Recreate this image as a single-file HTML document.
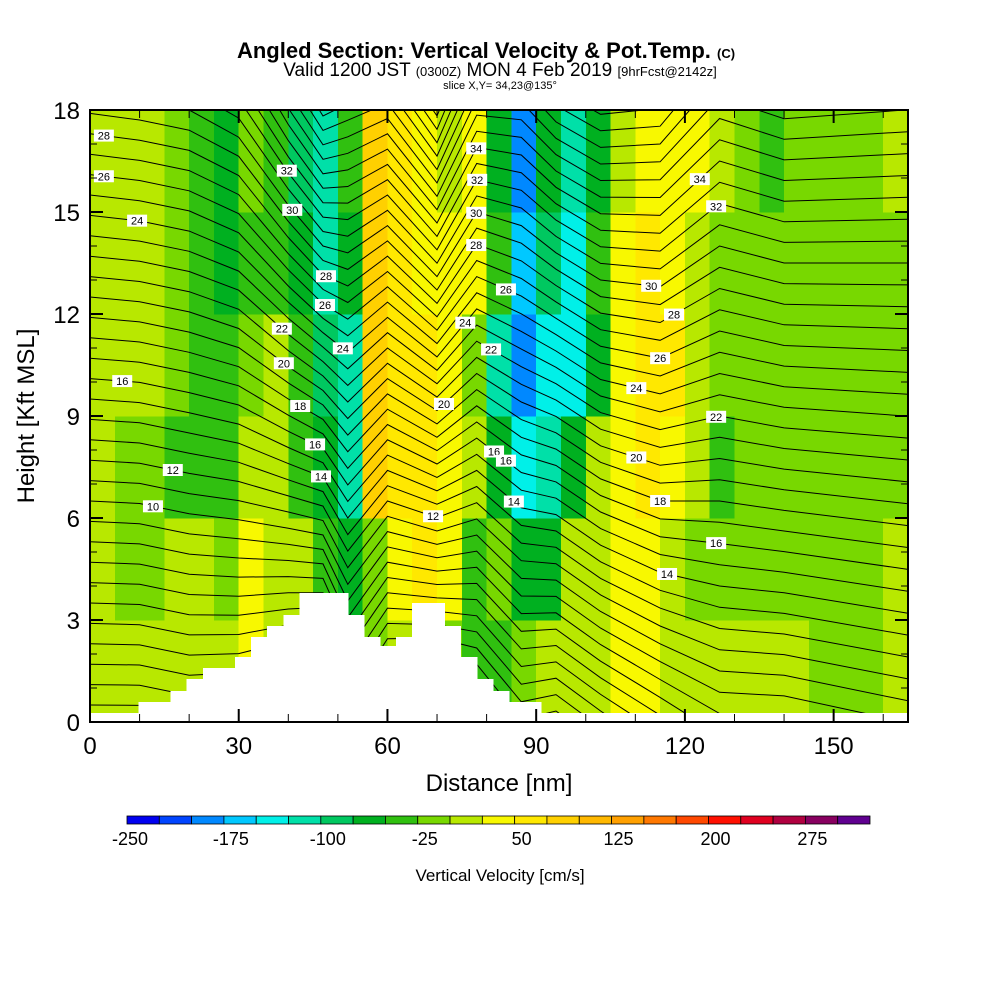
<!DOCTYPE html>
<html><head><meta charset="utf-8"><style>
body{margin:0;background:#fff}
svg{display:block;font-family:"Liberation Sans",Arial,sans-serif}
</style></head><body>
<svg id="chart" width="1000" height="1000" viewBox="0 0 1000 1000" xmlns="http://www.w3.org/2000/svg">
<rect width="1000" height="1000" fill="#fff"/>
<text x="486" y="58" text-anchor="middle" font-size="22" font-weight="bold">Angled Section: Vertical Velocity &amp; Pot.Temp. <tspan font-size="13">(C)</tspan></text>
<text x="500" y="76" text-anchor="middle" font-size="19">Valid 1200 JST <tspan font-size="13">(0300Z)</tspan> MON 4 Feb 2019 <tspan font-size="13">[9hrFcst@2142z]</tspan></text>
<text x="500" y="89" text-anchor="middle" font-size="11">slice X,Y= 34,23@135°</text>
<defs><clipPath id="pc"><rect x="90" y="110" width="818" height="612"/></clipPath></defs>
<g id="heat" clip-path="url(#pc)" shape-rendering="crispEdges"></g>
<g id="cont" clip-path="url(#pc)" fill="none" stroke="#000" stroke-width="1"></g>
<g id="terrain" clip-path="url(#pc)" shape-rendering="crispEdges"></g>
<g id="clabels"></g>
<rect x="90" y="110" width="818" height="612" fill="none" stroke="#000" stroke-width="2"/>
<g id="axes"></g>
<text x="499" y="791" text-anchor="middle" font-size="24">Distance [nm]</text>
<text transform="translate(34,416) rotate(-90)" text-anchor="middle" font-size="24">Height [Kft MSL]</text>
<g id="cbar"></g>
<text x="500" y="881" text-anchor="middle" font-size="17">Vertical Velocity [cm/s]</text>
</svg>
<script>
// ---- data ----
const xTicks=[0,30,60,90,120,150];
const yTicks=[0,3,6,9,12,15,18];
const cbarLabels=[-250,-175,-100,-25,50,125,200,275];
const palette=["#0000f0","#0044ff","#0088ff","#00c8ff","#00f0e8","#00e0a8","#00c860","#00b020","#30c010","#78d800","#b8e800","#f8f800","#ffe800","#ffd000","#ffb800","#ffa000","#ff7800","#ff4800","#ff1000","#e00020","#b00040","#880060","#600090"];
// vertical velocity rows (cm/s), 5 nm columns, rows of 3 kft from bottom
const w0=[12,12,12,12,12,12,37,12,12,-37,-37,-12,12,37,-12,-37,-37,-12,12,12,12,37,37,12,12,12,12,12,12,-12,-12,-12,12];
const w1=[12,-12,-12,12,12,-12,37,12,12,-37,-62,-12,37,62,37,-37,-12,-62,-62,12,12,37,37,12,-12,-12,-12,-12,-12,-12,-12,-12,12];
const w2=[12,-12,-12,-37,-37,-37,12,12,-37,-62,-112,87,62,62,37,12,-62,-137,-112,-62,12,37,62,37,12,-37,-12,-12,-12,-12,-12,-12,-12];
const w3=[12,12,12,-12,-37,-37,-12,12,-37,-87,-112,87,62,62,37,-12,-112,-187,-137,-137,-62,37,62,62,12,-12,-12,-12,-12,-12,-12,-12,-12];
const w4=[12,12,12,-12,-37,-62,-37,-37,-62,-112,-62,87,62,37,37,37,-37,-162,-87,-137,-37,37,62,37,12,-12,-12,-12,-12,-12,-12,-12,-12];
const w5=[12,12,12,-12,-37,-62,-12,-37,-87,-112,-37,87,62,37,12,37,-62,-187,-62,-112,-62,12,37,37,37,12,-12,-37,-12,-12,-12,-12,12];
const wRows=[w0,w1,w2,w3,w4,w5];
// terrain heights (kft) per 3.25 nm column
const terrain=[0.26,0.26,0.26,0.59,0.59,0.91,1.26,1.59,1.59,1.91,2.5,2.82,3.15,3.79,3.79,3.79,3.15,2.5,2.24,2.5,3.5,3.5,2.82,1.91,1.26,0.91,0.59,0.59,0.26,0.26,0.26,0.26,0.26,0.26,0.26,0.26,0.26,0.26,0.26,0.26,0.26,0.26,0.26,0.26,0.26,0.26,0.26,0.26,0.26,0.26,0.26];
// potential temperature: heights (kft) of the 14 and 30 contours at nodes
const thetaX=[0,10,20,30,40,47,52,60,70,78,87,94,103,115,127,140,165];
const z14=[8.9,8.8,8.5,8.2,7.6,7.2,6.0,7.4,6.8,7.4,6.3,6.1,5.2,4.4,4.0,3.8,3.2];
const z30=[18.5,18.3,18.0,17.2,15.2,14.0,13.8,14.6,13.1,15.0,14.6,13.8,13.0,12.8,14.0,13.5,13.5];
const labelLevels=[28,26,24,16,12,10,32,30,28,26,22,20,18,16,14,24,20,12,24,34,32,30,28,26,22,16,16,14,34,32,30,28,26,24,22,20,18,16,14];
const labelX=[2.8,2.8,9.5,6.5,16.7,12.7,39.7,40.8,47.6,47.4,38.7,39.1,42.4,45.4,46.6,51,71.4,69.2,75.7,77.9,78.1,77.9,77.9,83.9,80.9,81.5,83.9,85.5,123,126.3,113.2,117.8,115,110.2,126.3,110.2,115,126.3,116.4];

// ---- scales ----
const X=v=>90+v*(818/165);
const Y=v=>722-v*(612/18);
const NS="http://www.w3.org/2000/svg";
function mk(tag,parent,attrs){const e=document.createElementNS(NS,tag);for(const k in attrs)e.setAttribute(k,attrs[k]);parent.appendChild(e);return e;}
const colorOf=v=>palette[Math.max(0,Math.min(22,Math.floor((v+250)/25)))];

// heatmap
const heat=document.getElementById('heat');
wRows.forEach((row,ri)=>{row.forEach((v,ci)=>{
  const r=mk('rect',heat,{x:X(ci*5),y:Y(ri*3+3),width:X(ci*5+5)-X(ci*5)+0.5,height:Y(ri*3)-Y(ri*3+3)+0.5,fill:colorOf(v)});
  
  
});});

// contours
function zAt(L,i){return z14[i]+(L-14)*(z30[i]-z14[i])/16;}
function zAtX(L,x){for(let i=0;i<thetaX.length-1;i++){if(x<=thetaX[i+1]){const t=(x-thetaX[i])/(thetaX[i+1]-thetaX[i]);return zAt(L,i)*(1-t)+zAt(L,i+1)*t;}}return zAt(L,thetaX.length-1);}
const cont=document.getElementById('cont');
for(let L=0;L<=42;L++){
  const d=thetaX.map((x,i)=>(i?'L':'M')+X(x).toFixed(1)+','+Y(zAt(L,i)).toFixed(1)).join(' ');
  const p=mk('path',cont,{d:d});
  
  
}

// terrain
const ter=document.getElementById('terrain');
terrain.forEach((h,i)=>{
  const r=mk('rect',ter,{x:X(i*3.25),y:Y(h),width:X(i*3.25+3.25)-X(i*3.25)+0.6,height:722-Y(h)+1,fill:'#fff'});
  
  
});

// contour labels
const cl=document.getElementById('clabels');
labelLevels.forEach((L,i)=>{
  const x=X(labelX[i]),y=Y(zAtX(L,labelX[i]));
  if(y<112||y>720)return;
  const g=mk('g',cl,{});
  
  
  mk('rect',g,{x:x-10,y:y-6,width:20,height:12,fill:'#fff'});
  const t=mk('text',g,{x:x,y:y+4,'text-anchor':'middle','font-size':11});
  t.textContent=L;
});

// axes
const ax=document.getElementById('axes');
yTicks.forEach(v=>{
  const t=mk('text',ax,{x:80,y:Y(v)+9,'text-anchor':'end','font-size':24});
  t.textContent=v;
  
  
});
for(let v=0;v<=18;v++){const len=v%3===0?13:7;
  mk('line',ax,{x1:90,x2:90+len,y1:Y(v),y2:Y(v),stroke:'#000','stroke-width':v%3===0?2:1});
  mk('line',ax,{x1:908,x2:908-len,y1:Y(v),y2:Y(v),stroke:'#000','stroke-width':v%3===0?2:1});}
xTicks.forEach(v=>{
  const t=mk('text',ax,{x:X(v),y:754,'text-anchor':'middle','font-size':24});
  t.textContent=v;
  
  
});
for(let v=0;v<=160;v+=10){const len=v%30===0?13:8;
  mk('line',ax,{x1:X(v),x2:X(v),y1:722,y2:722-len,stroke:'#000','stroke-width':v%30===0?2:1});
  mk('line',ax,{x1:X(v),x2:X(v),y1:110,y2:110+len,stroke:'#000','stroke-width':v%30===0?2:1});}

// colorbar
const cb=document.getElementById('cbar');
const cbW=743/23;
palette.forEach((c,i)=>{
  const r=mk('rect',cb,{x:127+i*cbW,y:816,width:cbW,height:8,fill:c,stroke:'#000','stroke-width':0.8});
  
  
});
cbarLabels.forEach(v=>{
  const i=(v+250)/25;
  const t=mk('text',cb,{x:130+i*cbW+(i?4:0),y:845,'text-anchor':'middle','font-size':18});
  t.textContent=v;
  
  
});
</script>
</body></html>
